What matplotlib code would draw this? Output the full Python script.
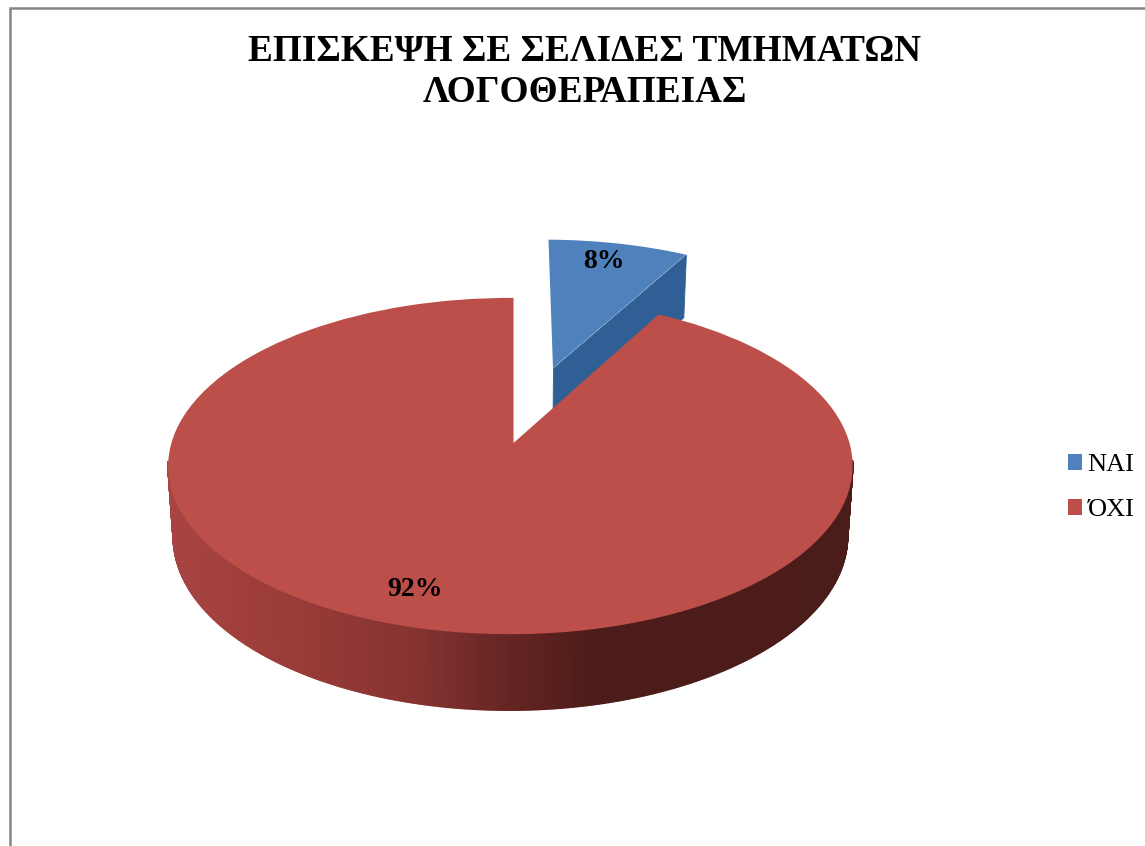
import matplotlib
matplotlib.use('Agg')
import matplotlib.pyplot as plt
import numpy as np
from matplotlib.collections import PolyCollection
from matplotlib.transforms import Transform

plt.rcParams['font.family'] = ['Liberation Serif', 'DejaVu Serif']

title = 'ΕΠΙΣΚΕΨΗ ΣΕ ΣΕΛΙΔΕΣ ΤΜΗΜΑΤΩΝ\nΛΟΓΟΘΕΡΑΠΕΙΑΣ'
labels = ['ΝΑΙ', 'ΌΧΙ']
values = [8, 92]
colors = ['#4f81bd', '#bd4f4b']

# perspective of the pie in picture pixels
cx, cy = 513.5, 443
A, B = 339, 165
k, m = 0.137, 0.009
depth = 69.5
shrink = 0.985


def project(u, v, lower=False):
    w = 1 + k * v + m * u
    x = A * u / w
    y = -B * v / w
    if lower:
        x = x * shrink
        y = y + depth / w ** 0.6
    return cx + x, cy + y


class Tilt(Transform):
    input_dims = 2
    output_dims = 2

    def transform_non_affine(self, values):
        values = np.asarray(values)
        x, y = project(values[:, 0], values[:, 1])
        return np.column_stack([x, y])


fig = plt.figure(figsize=(11.45, 8.46), dpi=100)
ax = fig.add_axes([0, 0, 1, 1])

wedges, _ = ax.pie(values, colors=colors, explode=(0.5, 0), startangle=90,
                   counterclock=False, radius=1)
ax.set_aspect('auto')
ax.set_xlim(0, 1145)
ax.set_ylim(846, 0)
ax.axis('off')

tilt = Tilt() + ax.transData
for w in wedges:
    w.set_transform(tilt)
    w.set_linewidth(0)
wedges[0].set_zorder(2.5)
wedges[1].set_zorder(5)

# side wall of the red slice, shaded from left to right
red = wedges[1]
th = np.linspace(min(red.theta1, red.theta2), max(red.theta1, red.theta2), 700)
th = (th - 90) % 360 + 90
th = np.sort(th[(th > 186) & (th < 354)])
u = np.cos(np.radians(th))
v = np.sin(np.radians(th))
x1, y1 = project(u, v)
x2, y2 = project(u, v, lower=True)
quads = []
face = []
stops_x = [165, 300, 420, 520, 600, 860]
stops_r = [0.66, 0.60, 0.52, 0.38, 0.30, 0.29]
stops_g = [0.27, 0.23, 0.20, 0.14, 0.11, 0.11]
stops_b = [0.26, 0.22, 0.19, 0.13, 0.10, 0.10]
for i in range(len(x1) - 1):
    quads.append([(x1[i], y1[i]), (x1[i + 1], y1[i + 1]), (x2[i + 1], y2[i + 1]), (x2[i], y2[i])])
    mid = (x1[i] + x1[i + 1]) / 2
    face.append((np.interp(mid, stops_x, stops_r), np.interp(mid, stops_x, stops_g),
                 np.interp(mid, stops_x, stops_b)))
ax.add_collection(PolyCollection(quads, facecolors=face, edgecolors=face, linewidths=1.2, zorder=4))

# cut face of the pulled out blue slice
blue = wedges[0]
ang = np.radians(min(blue.theta1, blue.theta2))
ox, oy = blue.center
ex, ey = ox + np.cos(ang), oy + np.sin(ang)
p1 = project(ox, oy)
p2 = project(ex, ey)
p3 = project(ex, ey, lower=True)
p4 = project(ox, oy, lower=True)
ax.add_collection(PolyCollection([[p1, p2, p3, p4]], facecolors='#2f5f94', edgecolors='#2f5f94',
                                 linewidths=0.6, zorder=2))

ax.text(585, 72, title, ha='center', va='center', fontsize=26.8, fontweight='bold',
        linespacing=1.2, color='black')
ax.text(604, 262, f'{values[0]}%', ha='center', va='center', fontsize=20, fontweight='bold', zorder=8)
ax.text(415, 590, f'{values[1]}%', ha='center', va='center', fontsize=20, fontweight='bold', zorder=8)

ax.legend(wedges, labels, loc='upper left', bbox_to_anchor=(1068 / 1145, 1 - 454 / 846),
          frameon=False, fontsize=19, handlelength=0.53, handleheight=0.53,
          handletextpad=0.2, labelspacing=0.88, borderpad=0, borderaxespad=0)

# chart frame, only left and top are in the picture
ax.plot([10, 10, 1145], [846, 8, 8], color='#868686', lw=1.8, zorder=1, solid_joinstyle='miter')

fig.savefig('out.png', dpi=100, facecolor='white')
